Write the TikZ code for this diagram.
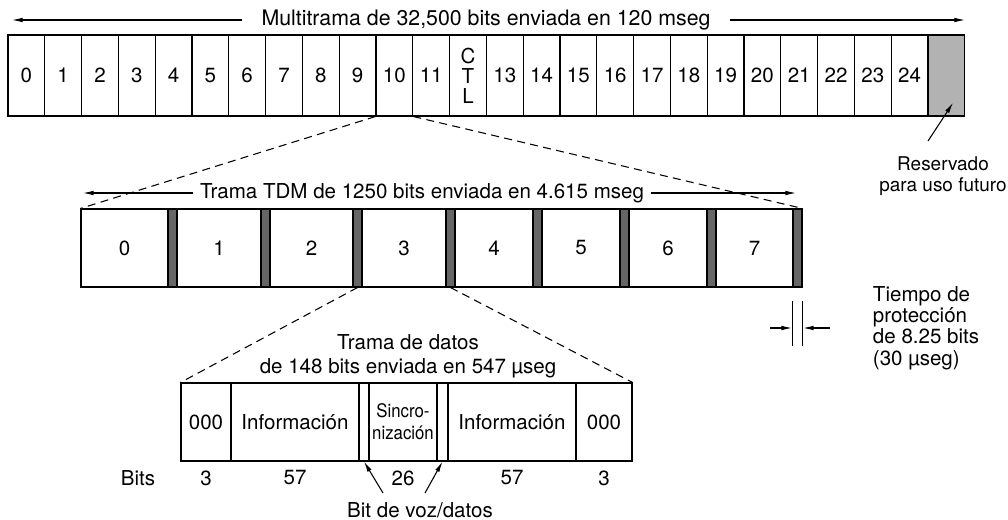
\documentclass[tikz,border=0pt]{standalone}
\usepackage{fontspec}
\setmainfont{TeX Gyre Heros}
\newfontfamily\narrowfont{TeX Gyre Heros}[FakeStretch=0.9]
\usetikzlibrary{arrows.meta}

\begin{document}
\begin{tikzpicture}[
    x=0.75pt, y=-0.75pt, thick,
    font=\fontsize{15.4}{15.4}\selectfont,
    cell/.style={draw,minimum width=27.6pt,minimum height=60.75pt,inner sep=0pt},
    reserved/.style={fill=black!30},
    slot/.style={draw,minimum width=#1,minimum height=58.5pt,inner sep=0pt},
    guard/.style={draw,fill=black!60,minimum width=6.75pt,minimum height=58.5pt,inner sep=0pt},
    field/.style={draw,minimum width=#1,minimum height=58.5pt,inner sep=0pt},
    arr/.style={-{Latex[length=8pt,width=3.5pt]}},
    zoomline/.style={dash pattern=on 6pt off 4pt}
  ]
    \useasboundingbox (0,0) rectangle (1008,520);

    % Multitrama
    \node (multi) at (486,20) [inner xsep=14pt,font=\fontsize{16}{16}\selectfont] {Multitrama de 32,500 bits enviada en 120 mseg};
    \coordinate (multiL) at (12,20);
    \coordinate (multiR) at (965,20);
    \draw[arr] (multi.west) -- (multiL);
    \draw[arr] (multi.east) -- (multiR);

    \node[cell] (M0) at (26.4,75.5) {0};
    \node[cell] (M1) at (63.2,75.5) {1};
    \node[cell] (M2) at (100.0,75.5) {2};
    \node[cell] (M3) at (136.8,75.5) {3};
    \node[cell] (M4) at (173.6,75.5) {4};
    \node[cell] (M5) at (210.4,75.5) {5};
    \node[cell] (M6) at (247.2,75.5) {6};
    \node[cell] (M7) at (284.0,75.5) {7};
    \node[cell] (M8) at (320.8,75.5) {8};
    \node[cell] (M9) at (357.6,75.5) {9};
    \node[cell] (M10) at (394.4,75.5) {10};
    \node[cell] (M11) at (431.2,75.5) {11};
    \node[cell, align=center, font=\fontsize{15.4}{15}\selectfont] (M12) at (468.0,75.5) {C\\T\\L};
    \node[cell] (M13) at (504.8,75.5) {13};
    \node[cell] (M14) at (541.6,75.5) {14};
    \node[cell] (M15) at (578.4,75.5) {15};
    \node[cell] (M16) at (615.2,75.5) {16};
    \node[cell] (M17) at (652.0,75.5) {17};
    \node[cell] (M18) at (688.8,75.5) {18};
    \node[cell] (M19) at (725.6,75.5) {19};
    \node[cell] (M20) at (762.4,75.5) {20};
    \node[cell] (M21) at (799.2,75.5) {21};
    \node[cell] (M22) at (836.0,75.5) {22};
    \node[cell] (M23) at (872.8,75.5) {23};
    \node[cell] (M24) at (909.6,75.5) {24};
    \node[cell, reserved] (M25) at (946.4,75.5) {};

    % Reservado
    \node (res) at (943,176) [align=center,inner sep=1pt,font=\fontsize{14.2}{15.6}\selectfont] {Reservado\\para uso futuro};
    \coordinate (restail) at (928,141);
    \draw[arr] (restail) -- ([xshift=5pt,yshift=-20.5pt]M25.center);

    % Trama TDM
    \node (tdm) at (422,193) [inner xsep=4.5pt] {Trama TDM de 1250 bits enviada en 4.615 mseg};
    \coordinate (tdmL) at (83,193);
    \coordinate (tdmR) at (796,193);
    \draw[arr] (tdm.west) -- (tdmL);
    \draw[arr] (tdm.east) -- (tdmR);

    \node[slot=65.25pt] (T0) at (124.5,248) {0};
    \node[guard] (G0) at (172.5,248) {};
    \node[slot=63pt] (T1) at (219,248) {1};
    \node[guard] (G1) at (265.5,248) {};
    \node[slot=62.25pt] (T2) at (311.5,248) {2};
    \node[guard] (G2) at (357.5,248) {};
    \node[slot=63pt] (T3) at (404,248) {3};
    \node[guard] (G3) at (450.5,248) {};
    \node[slot=58.5pt] (T4) at (494,248) {4};
    \node[guard] (G4) at (537.5,248) {};
    \node[slot=58.5pt] (T5) at (581,248) {5};
    \node[guard] (G5) at (624.5,248) {};
    \node[slot=58.5pt] (T6) at (668,248) {6};
    \node[guard] (G6) at (711.5,248) {};
    \node[slot=57.75pt] (T7) at (754.5,248) {7};
    \node[guard] (G7) at (797.5,248) {};

    \draw[zoomline] (M10.south west) -- (T0.north west);
    \draw[zoomline] (M10.south east) -- (G7.north east);

    % Tiempo de proteccion
    \draw (G7.south west) ++(0,13) -- ++(0,45);
    \draw (G7.south east) ++(0,13) -- ++(0,45);
    \coordinate (protL) at (770,328);
    \coordinate (protLtip) at (792,328);
    \coordinate (protR) at (830,328);
    \coordinate (protRtip) at (803,328);
    \draw[arr] (protL) -- (protLtip);
    \draw[arr] (protR) -- (protRtip);
    \node (prot) at (868,328) [anchor=west,align=left,font=\fontsize{15.4}{16}\selectfont] {Tiempo de\\protección\\de 8.25 bits\\(30 µseg)};

    % Trama de datos
    \node (datos) at (408,356) [align=center,font=\fontsize{15.4}{18}\selectfont] {Trama de datos\\de 148 bits enviada en 547 µseg};

    \node[field=37.5pt] (D1) at (206,422) {000};
    \node[field=96pt] (D2) at (295,422) {Información};
    \node[field=7.5pt] (D3) at (364,422) {};
    \node[field=51pt, align=center, font=\narrowfont\fontsize{14}{16.5}\selectfont] (D4) at (403,422) {Sincro-\\nización};
    \node[field=8.25pt] (D5) at (442.5,422) {};
    \node[field=96pt] (D6) at (512,422) {Información};
    \node[field=42pt] (D7) at (604,422) {000};

    \draw[zoomline] (G2.south) -- (D1.north west);
    \draw[zoomline] (G3.south) -- (D7.north east);

    % Bits
    \node (bits) at (138,478) {Bits};
    \node (n1) at (206,478) {3};
    \node (n2) at (295,478) {57};
    \node (n4) at (403,478) {26};
    \node (n6) at (512,478) {57};
    \node (n7) at (604,478) {3};

    % Bit de voz/datos
    \node (vd) at (420,510) [inner ysep=1pt] {Bit de voz/datos};
    \coordinate (vdL) at (383,493);
    \coordinate (vdR) at (425,493);
    \draw[arr] (vdL) -- (D3.south);
    \draw[arr] (vdR) -- (D5.south);

\end{tikzpicture}
\end{document}
